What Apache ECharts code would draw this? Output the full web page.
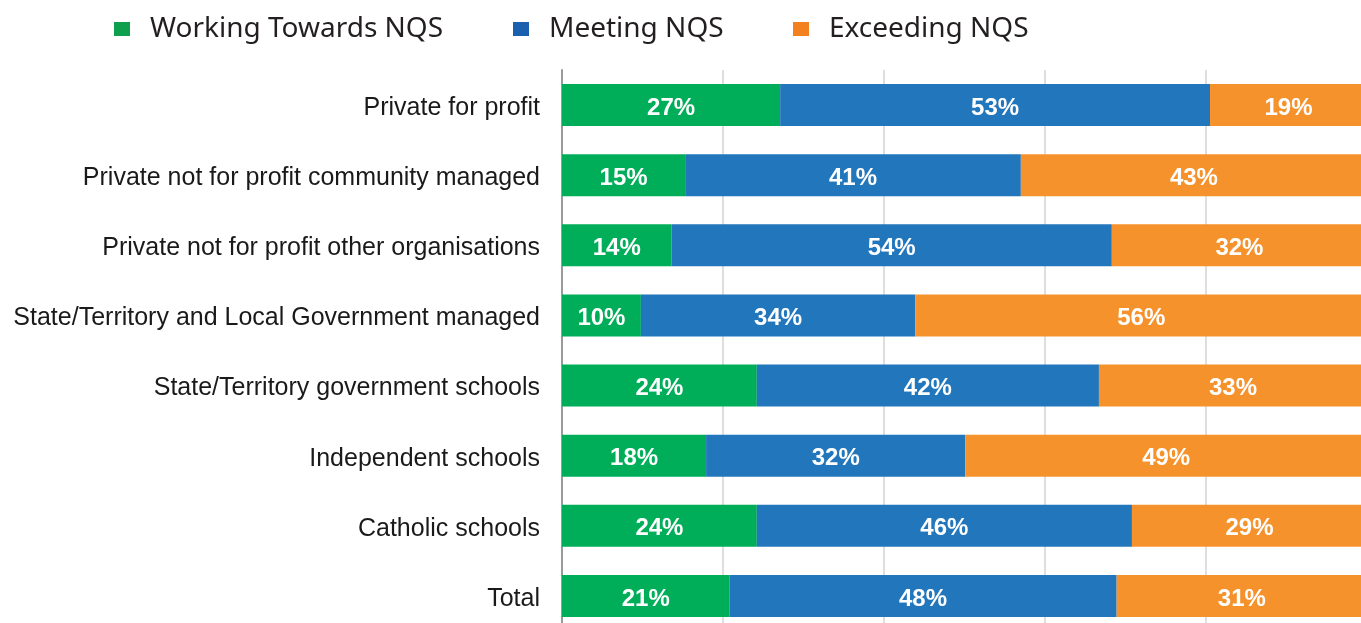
<!DOCTYPE html>
<html>
<head>
<meta charset="utf-8">
<script src="https://cdn.jsdelivr.net/npm/echarts@6/dist/echarts.min.js"></script>
<style>
  html, body { margin: 0; padding: 0; background: #fff; }
  #chart { width: 1361px; height: 623px; }
</style>
</head>
<body>
<div id="chart"></div>
<script>
  // NQS rating by provider management type — 100% stacked bars
  const CATEGORIES = [
    'Private for profit',
    'Private not for profit community managed',
    'Private not for profit other organisations',
    'State/Territory and Local Government managed',
    'State/Territory government schools',
    'Independent schools',
    'Catholic schools',
    'Total'
  ];
  const SERIES_NAMES = ['Working Towards NQS', 'Meeting NQS', 'Exceeding NQS'];

  // bar lengths (share of services, %)
  const WORKING = [27.1, 15.3, 13.6, 9.8, 24.2, 17.9, 24.2, 20.8];
  const MEETING = [53.4, 41.7, 54.7, 34.1, 42.5, 32.2, 46.6, 48.1];
  const EXCEEDING = [19.5, 43.0, 31.7, 56.1, 33.3, 49.9, 29.2, 31.1];

  // rounded figures printed on the bars
  const WORKING_LBL = [27, 15, 14, 10, 24, 18, 24, 21];
  const MEETING_LBL = [53, 41, 54, 34, 42, 32, 46, 48];
  const EXCEEDING_LBL = [19, 43, 32, 56, 33, 49, 29, 31];

  const X_TICKS = [0, 20, 40, 60, 80, 100];

  const BAR = ['#00ae5a', '#2176bc', '#f6922b'];
  const ICON = ['#0ea04c', '#1b60ae', '#f48120'];
  const LEGEND_X = [114, 513, 793];
  const ARIAL = "'Liberation Sans', Arial, sans-serif";

  const chart = echarts.init(document.getElementById('chart'));

  const values = [WORKING, MEETING, EXCEEDING];
  const labels = [WORKING_LBL, MEETING_LBL, EXCEEDING_LBL];

  chart.setOption({
    animation: false,
    backgroundColor: '#fff',
    legend: SERIES_NAMES.map(function (name, i) {
      return {
        data: [{ name: name, itemStyle: { color: ICON[i] } }],
        left: LEGEND_X[i],
        top: 15,
        padding: 0,
        icon: 'rect',
        itemWidth: 16,
        itemHeight: 14,
        selectedMode: false,
        textStyle: {
          fontFamily: 'Noto Sans',
          fontSize: 28,
          color: '#231f20',
          padding: [0, 0, 0, 15]
        }
      };
    }),
    // the 100% line sits just past the right edge, last row runs off the bottom
    grid: {
      left: 562, top: 70, width: 805, height: 561,
      containLabel: false,
      outerBoundsMode: 'none'
    },
    xAxis: {
      type: 'value',
      min: X_TICKS[0],
      max: X_TICKS[X_TICKS.length - 1],
      interval: X_TICKS[1] - X_TICKS[0],
      axisLine: { show: false },
      axisTick: { show: false },
      axisLabel: { show: false },
      splitLine: { lineStyle: { color: '#dedede', width: 2 } }
    },
    yAxis: {
      type: 'category',
      inverse: true,
      data: CATEGORIES,
      axisLine: { lineStyle: { color: '#9a9a9a', width: 2 } },
      axisTick: { show: false },
      axisLabel: {
        margin: 22,
        formatter: '{c|{value}}',
        rich: {
          c: {
            fontFamily: ARIAL,
            fontSize: 25,
            color: '#1a1a1a',
            lineHeight: 31,
            verticalAlign: 'bottom'
          }
        }
      }
    },
    series: SERIES_NAMES.map(function (name, i) {
      return {
        name: name,
        type: 'bar',
        stack: 'nqs',
        barWidth: 42,
        itemStyle: { color: BAR[i] },
        label: {
          show: true,
          position: 'inside',
          offset: [0, 3],
          color: '#fff',
          fontFamily: ARIAL,
          fontWeight: 'bold',
          fontSize: 24,
          formatter: function (p) {
            return labels[i][p.dataIndex] + '%';
          }
        },
        data: values[i]
      };
    })
  });
</script>
</body>
</html>
